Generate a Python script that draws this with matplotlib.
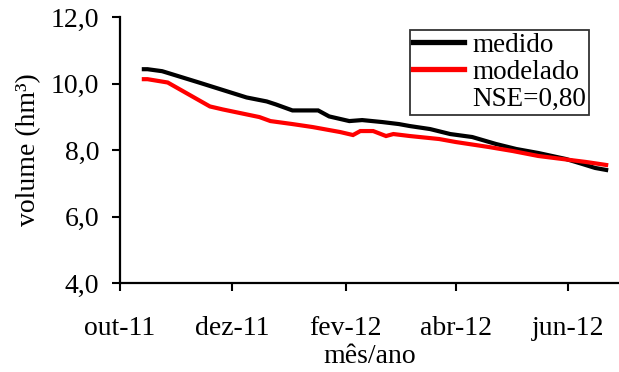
import datetime as dt

import matplotlib
matplotlib.use("Agg")
import matplotlib.pyplot as plt
import matplotlib.dates as mdates
from matplotlib.lines import Line2D

plt.rcParams["font.family"] = ["Liberation Serif", "DejaVu Serif"]

# volume observado no reservatório (hm³)
medido_datas = [
    "2011-10-14", "2011-10-16", "2011-10-24", "2011-11-13", "2011-12-09", "2011-12-20",
    "2011-12-25", "2012-01-03", "2012-01-17", "2012-01-23", "2012-02-03",
    "2012-02-10", "2012-02-21", "2012-03-01", "2012-03-07", "2012-03-18",
    "2012-03-29", "2012-04-10", "2012-04-23", "2012-05-04", "2012-05-16",
    "2012-05-31", "2012-06-09", "2012-06-16", "2012-06-22",
]
medido_vol = [
    10.43, 10.43, 10.37, 10.03, 9.58, 9.46,
    9.37, 9.19, 9.19, 9.01, 8.87,
    8.90, 8.84, 8.78, 8.72, 8.63,
    8.48, 8.39, 8.18, 8.03, 7.91,
    7.73, 7.58, 7.46, 7.40,
]

# volume simulado pelo modelo (hm³)
modelado_datas = [
    "2011-10-14", "2011-10-16", "2011-10-27", "2011-11-19", "2011-11-26", "2011-12-16",
    "2011-12-22", "2012-01-03", "2012-01-14", "2012-01-29", "2012-02-05",
    "2012-02-09", "2012-02-16", "2012-02-23", "2012-02-27", "2012-03-07",
    "2012-03-23", "2012-04-01", "2012-04-19", "2012-05-02", "2012-05-16",
    "2012-05-29", "2012-06-11", "2012-06-22",
]
modelado_vol = [
    10.13, 10.13, 10.03, 9.31, 9.22, 8.99,
    8.87, 8.78, 8.69, 8.54, 8.45,
    8.57, 8.57, 8.42, 8.48, 8.42,
    8.33, 8.24, 8.09, 7.97, 7.82,
    7.73, 7.64, 7.55,
]

x_ticks = ["2011-10-01", "2011-12-01", "2012-02-01", "2012-04-01", "2012-06-01"]
x_tick_labels = ["out-11", "dez-11", "fev-12", "abr-12", "jun-12"]
y_ticks = [4, 6, 8, 10, 12]
y_tick_labels = ["4,0", "6,0", "8,0", "10,0", "12,0"]


def to_dates(values):
    return [dt.datetime.strptime(v, "%Y-%m-%d") for v in values]


fig = plt.figure(figsize=(6.19, 3.72), dpi=100)
ax = fig.add_axes([120 / 619, 1 - 283 / 372, 1 - 120 / 619, (283 - 17) / 372])

ax.plot(to_dates(medido_datas), medido_vol, color="black", lw=3,
        solid_joinstyle="miter", label="medido")
ax.plot(to_dates(modelado_datas), modelado_vol, color="#ff0000", lw=3,
        solid_joinstyle="miter", label="modelado")

ax.set_xlim(dt.datetime(2011, 10, 1), dt.datetime(2012, 6, 29))
ax.set_ylim(4, 12)

ax.set_xticks(mdates.date2num(to_dates(x_ticks)))
ax.set_xticklabels(x_tick_labels)
ax.set_yticks(y_ticks)
ax.set_yticklabels(y_tick_labels)

ax.tick_params(axis="both", direction="out", length=6, width=1.5, labelsize=20)
ax.tick_params(axis="x", pad=18)
ax.tick_params(axis="y", pad=9)

for side in ("top", "right"):
    ax.spines[side].set_visible(False)
for side in ("left", "bottom"):
    ax.spines[side].set_linewidth(1.6)

ax.set_xlabel("mês/ano", fontsize=20, labelpad=2)
ax.set_ylabel("volume (hm³)", fontsize=20, labelpad=7)

handles = [
    Line2D([], [], color="black", lw=3.8),
    Line2D([], [], color="#ff0000", lw=3.8),
    Line2D([], [], color="none"),
]
labels = ["medido", "modelado", "NSE=0,80"]
leg = ax.legend(handles, labels, loc="upper left",
                bbox_to_anchor=(410 / 619, 1 - 30 / 372),
                bbox_transform=fig.transFigure,
                fontsize=19.5, frameon=True, fancybox=False,
                handlelength=1.9, handletextpad=0.3, labelspacing=0.08,
                borderpad=0.1, borderaxespad=0)
leg.get_frame().set_edgecolor("black")
leg.get_frame().set_linewidth(1.3)

fig.savefig("out.png", dpi=100)
